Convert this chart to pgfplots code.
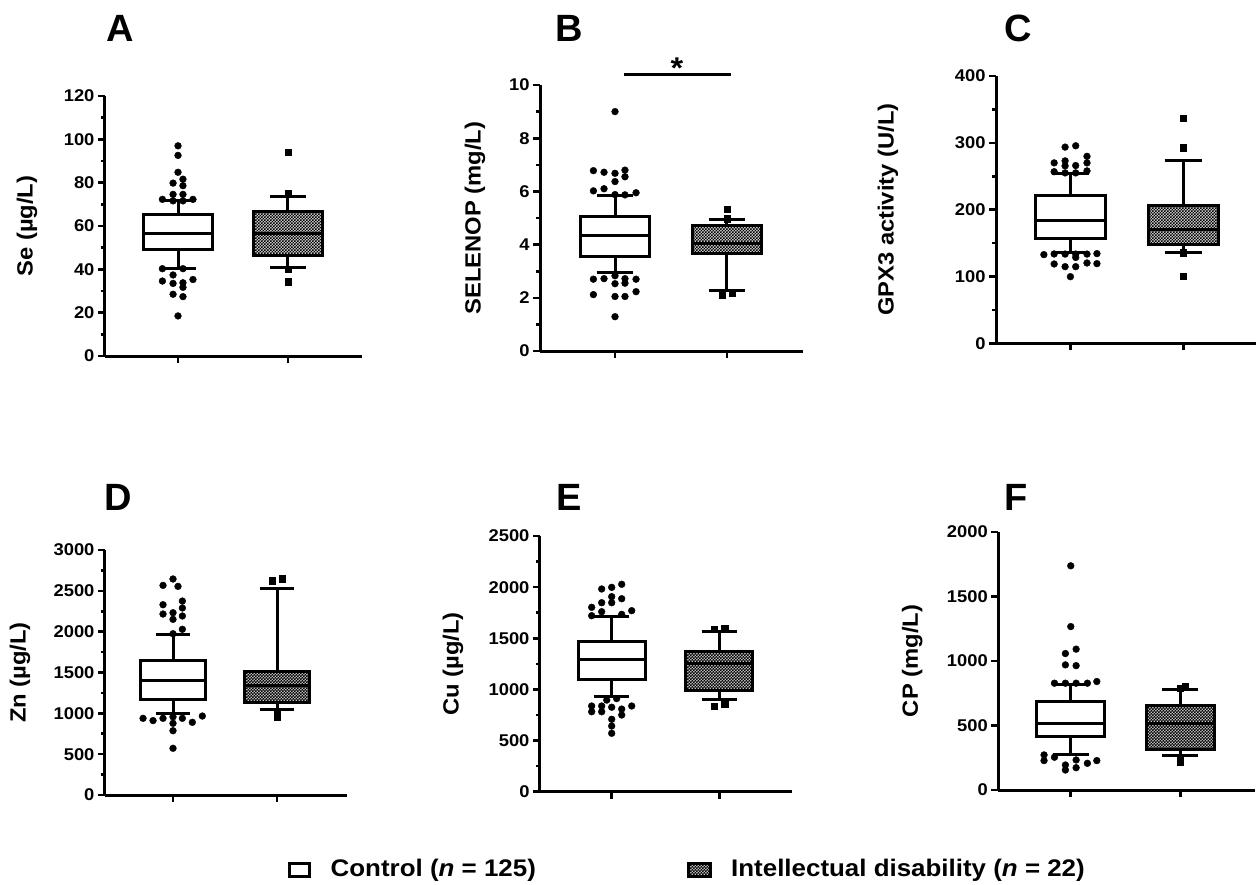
\documentclass[border=0pt]{standalone}
\usepackage{fontspec}
\setmainfont{Liberation Sans}[FakeStretch=1.08]
\newfontfamily\letterfont{Liberation Sans}
\usepackage{pgfplots}
\pgfplotsset{compat=1.18}
\usepgfplotslibrary{statistics}
\usetikzlibrary{patterns}

\pgfdeclarepatternformonly{finecheck}{\pgfqpoint{-0.1pt}{-0.1pt}}{\pgfqpoint{3.1pt}{3.1pt}}{\pgfqpoint{3pt}{3pt}}{%
 \pgfpathrectangle{\pgfqpoint{0pt}{0pt}}{\pgfqpoint{1.55pt}{1.55pt}}%
 \pgfpathrectangle{\pgfqpoint{1.5pt}{1.5pt}}{\pgfqpoint{1.55pt}{1.55pt}}%
 \pgfusepath{fill}}

\pgfplotsset{
  panel/.style={
    scale only axis,
    anchor=south west,
    boxplot/draw direction=y,
    axis x line*=bottom, axis y line*=left,
    axis line style={line width=3pt, -},
    xtick={1,2}, xticklabels={},
    tick align=outside,
    major tick length=7pt, minor tick length=4pt,
    every major tick/.style={black, line width=2.6pt},
    every minor tick/.style={black, line width=2.6pt},
    tick label style={font=\fontsize{17}{17}\selectfont\bfseries},
    /pgf/number format/assume math mode=true,
    /pgf/number format/1000 sep={},
    scaled y ticks=false,
    clip=false,
    ymin=0,
    every axis y label/.style={at={(axis description cs:0,0.5)}, rotate=90, anchor=center,
       font=\fontsize{22}{22}\selectfont\bfseries},
  },
  ctrl/.style={black, line width=3pt, boxplot prepared={draw direction=y, draw position=1, box extend=0.62, whisker extend=0.33, #1},
     boxplot/every box/.style={fill=white}},
  idb/.style={black, line width=3pt, boxplot prepared={draw direction=y, draw position=2, box extend=0.62, whisker extend=0.33, #1},
     boxplot/every box/.style={preaction={fill=gray!25}, pattern=finecheck}},
  cout/.style={only marks, mark=*, mark size=3.4pt, black},
  iout/.style={only marks, mark=square*, mark size=3.2pt, black},
}

\begin{document}
\begin{tikzpicture}
\useasboundingbox (-628.5pt,-442pt) rectangle (628.5pt,442pt);

% ---------- A ----------
\begin{axis}[panel, at={(-523.5pt,86pt)}, width=257pt, height=260pt,
  xmin=0.336, xmax=2.673, ymax=120, ytick={0,20,...,120}, minor y tick num=1,
  ylabel={Se (µg/L)}, every axis y label/.append style={yshift=78pt}]
\addplot[ctrl={lower whisker=40.5, lower quartile=49.3, median=56.7, upper quartile=65.5, upper whisker=71.6}] coordinates {};
\addplot[idb={lower whisker=40.9, lower quartile=46.6, median=56.6, upper quartile=66.6, upper whisker=73.8}] coordinates {};
\addplot[cout] coordinates {(1,97.0) (1,92.6) (1,84.8) (1.045,81.6) (0.955,79.8) (1.045,78.6) (0.955,74.6) (1.045,74.6) (0.858,72.3) (1.136,72.3) (0.955,71.6) (1.045,71.6)
 (0.858,40.3) (1.045,40.3) (0.955,37.4) (0.858,34.6) (1.136,35.3) (0.955,33.5) (1.045,33.8) (1.045,31.7) (0.955,28.5) (1.045,27.4) (1,18.5)};
\addplot[iout] coordinates {(2,94.0) (2,74.9) (2,40.2) (2,34.3)};
\end{axis}

% ---------- B ----------
\begin{axis}[panel, at={(-88.5pt,91pt)}, width=263pt, height=266pt,
  xmin=0.330, xmax=2.679, ymax=10, ytick={0,2,...,10}, minor y tick num=1,
  ylabel={SELENOP (mg/L)}, every axis y label/.append style={yshift=65pt}]
\addplot[ctrl={lower whisker=2.94, lower quartile=3.55, median=4.35, upper quartile=5.05, upper whisker=5.86}] coordinates {};
\addplot[idb={lower whisker=2.27, lower quartile=3.65, median=4.05, upper quartile=4.70, upper whisker=4.96}] coordinates {};
\addplot[cout] coordinates {(1,9.0) (0.807,6.78) (0.902,6.72) (1,6.68) (1.089,6.8) (1.089,6.55) (1,6.37) (0.807,6.02) (0.902,6.10) (1,5.88) (1.089,5.87) (1.188,5.95)
 (0.807,2.70) (0.902,2.72) (1,2.83) (1.089,2.72) (1.188,2.70) (1,2.53) (1.089,2.55) (1.188,2.23) (0.807,2.12) (1,2.05) (1.089,2.05) (1,1.29)};
\addplot[iout] coordinates {(2,5.34) (2,4.98) (1.955,2.10) (2.045,2.17)};
\draw[line width=3pt] (axis cs:1.08,10.38) -- (axis cs:2.04,10.38);
\node[anchor=base, inner sep=0pt, font=\fontsize{30}{30}\selectfont\bfseries] at (axis cs:1.554,10.24) {*};
\end{axis}

% ---------- C ----------
\begin{axis}[panel, at={(367.5pt,98.7pt)}, width=260pt, height=267.3pt,
  xmin=0.341, xmax=2.644, ymax=400, ytick={0,100,...,400}, minor y tick num=1,
  ylabel={GPX3 activity (U/L)}, every axis y label/.append style={yshift=108pt}]
\addplot[ctrl={lower whisker=136.2, lower quartile=156.6, median=183.5, upper quartile=220.9, upper whisker=254.4}] coordinates {};
\addplot[idb={lower whisker=136.2, lower quartile=148.6, median=170.6, upper quartile=205.5, upper whisker=273.8}] coordinates {};
\addplot[cout] coordinates {(0.953,293.6) (1.047,295.6) (0.856,270) (0.953,273) (0.953,265.5) (1.047,266) (1.147,279.8) (1.147,270) (0.856,256.8) (0.953,255) (1.047,255) (1.147,258)
 (0.765,132.7) (0.856,133.7) (0.953,133.5) (1.047,133.5) (1.147,133.5) (1.235,134.2) (1.047,128.5) (0.856,118.7) (0.953,114.7) (1.047,114.7) (1.147,120.2) (1.235,119.2) (1,99.7)};
\addplot[iout] coordinates {(2,336.7) (2,292.7) (2,135.8) (2,100.7)};
\end{axis}

% ---------- D ----------
\begin{axis}[panel, at={(-523.5pt,-353pt)}, width=242pt, height=245pt,
  xmin=0.346, xmax=2.673, ymax=3000, ytick={0,500,...,3000}, minor y tick num=1,
  ylabel={Zn (µg/L)}, every axis y label/.append style={yshift=85pt}]
\addplot[ctrl={lower whisker=1000, lower quartile=1171, median=1408, upper quartile=1641, upper whisker=1971}] coordinates {};
\addplot[idb={lower whisker=1041, lower quartile=1130, median=1340, upper quartile=1514, upper whisker=2531}] coordinates {};
\addplot[cout] coordinates {(1,2645) (0.904,2567) (1.048,2555) (0.904,2330) (1.09,2375) (1.09,2290) (1,2232) (0.904,2216) (1.09,2192) (1,2151) (1.09,2029) (1,1975)
 (0.712,939) (0.808,911) (0.904,939) (1,957) (1.09,939) (1.186,890) (1.282,967) (1,878) (1,787) (1,572)};
\addplot[iout] coordinates {(1.952,2625) (2.048,2650) (2,960) (2,1000)};
\end{axis}

% ---------- E ----------
\begin{axis}[panel, at={(-88.5pt,-349.7pt)}, width=252pt, height=255.7pt,
  xmin=0.334, xmax=2.675, ymax=2500, ytick={0,500,...,2500}, minor y tick num=1,
  ylabel={Cu (µg/L)}, every axis y label/.append style={yshift=87pt}]
\addplot[ctrl={lower whisker=929, lower quartile=1099, median=1288, upper quartile=1467, upper whisker=1711}] coordinates {};
\addplot[idb={lower whisker=897, lower quartile=985, median=1255, upper quartile=1369, upper whisker=1564}] coordinates {};
\addplot[cout] coordinates {(1.093,2028) (0.907,1982) (1,1998) (1,1907) (1.093,1887) (0.907,1848) (1,1848) (0.814,1803) (1.186,1770) (0.907,1760) (0.814,1721) (1.093,1734)
 (0.954,896) (1.046,910) (0.814,838) (0.907,838) (1,826) (1.186,838) (0.907,782) (0.814,782) (1.093,808) (1.093,750) (1,708) (1,642) (1,571)};
\addplot[iout] coordinates {(1.95,1591) (2.05,1597) (1.95,838) (2.05,857)};
\end{axis}

% ---------- F ----------
\begin{axis}[panel, at={(369.8pt,-348pt)}, width=257pt, height=258pt,
  xmin=0.338, xmax=2.686, ymax=2000, ytick={0,500,...,2000},
  ylabel={CP (mg/L)}, every axis y label/.append style={yshift=86pt}]
\addplot[ctrl={lower whisker=277, lower quartile=414, median=518, upper quartile=685, upper whisker=815}] coordinates {};
\addplot[idb={lower whisker=264, lower quartile=316, median=518, upper quartile=652, upper whisker=776}] coordinates {};
\addplot[cout] coordinates {(1,1738) (1,1267) (1.049,1092) (0.951,1058) (0.951,970) (1.049,964) (0.851,828) (0.951,828) (1.049,828) (1.152,828) (1.238,841)
 (0.756,272) (0.756,228) (0.851,254) (0.951,194) (0.951,155) (1.049,233) (1.049,173) (1.152,207) (1.238,228)};
\addplot[iout] coordinates {(2.045,807) (2,790) (2,220) (2,245)};
\end{axis}

% ---------- panel letters ----------
\begin{scope}[every node/.style={anchor=base west, inner sep=0pt, font=\letterfont\fontsize{38}{38}\selectfont\bfseries}]
\node at (-522.5pt,400pt) {A};
\node at (-73.5pt,400pt) {B};
\node at (375.5pt,400pt) {C};
\node at (-524.5pt,-68pt) {D};
\node at (-72.5pt,-68pt) {E};
\node at (375.5pt,-68pt) {F};
\end{scope}

% ---------- legend ----------
\draw[line width=3pt, fill=white] (-339pt,-434pt) rectangle (-318.5pt,-421pt);
\node[anchor=base west, inner sep=0pt, font=\fontsize{24}{24}\selectfont\bfseries] at (-298pt,-434pt) {Control (\textit{n} = 125)};
\draw[line width=3pt, preaction={fill=gray!25}, pattern=finecheck] (60pt,-434pt) rectangle (82pt,-421pt);
\node[anchor=base west, inner sep=0pt, font=\fontsize{24}{24}\selectfont\bfseries] at (102.5pt,-434pt) {Intellectual disability (\textit{n} = 22)};
\end{tikzpicture}
\end{document}
